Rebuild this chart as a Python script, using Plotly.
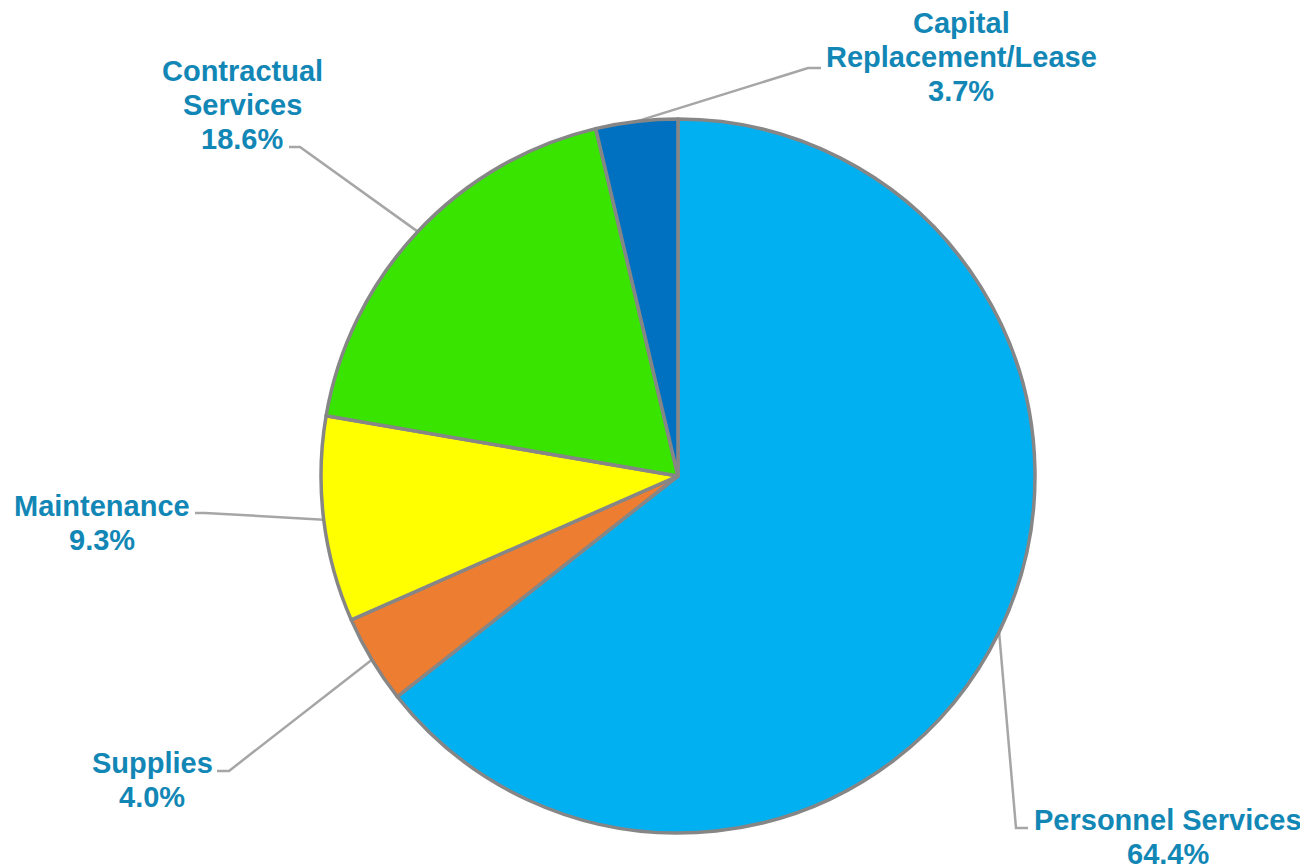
import math
import plotly.graph_objects as go

# ---- data ----
categories = ["Personnel Services", "Supplies", "Maintenance",
              "Contractual Services", "Capital Replacement/Lease"]
values = [64.4, 4.0, 9.3, 18.6, 3.7]
label_lines = [["Personnel Services"], ["Supplies"], ["Maintenance"],
               ["Contractual", "Services"], ["Capital", "Replacement/Lease"]]
colors = ["#00B0F0", "#ED7D31", "#FFFF00", "#38E400", "#0070C0"]

# ---- layout geometry (page pixels) ----
OFF = 8                      # default page body margin
W, H = 1308 - OFF, 867 - OFF  # figure size
CX, CY, R = 678, 476, 357
dom_x = [(CX - OFF - R) / W, (CX - OFF + R) / W]
dom_y = [1 - (CY - OFF + R) / H, 1 - (CY - OFF - R) / H]

# label placement: center x, y of first line; leader elbow and end points
label_pos = [(1168, 818), (152, 761), (102, 504), (242, 69), (961, 21)]
elbows = [[(1016, 828), (1028, 828)],
          [(229, 771), (217, 771)],
          [(205, 513), (195, 513)],
          [(300, 147), (289, 147)],
          [(808, 68), (821, 68)]]
LINE_H = 34
TEXT_COLOR = "#1287B6"


def px2paper(x, y):
    return (x - OFF) / W, 1 - (y - OFF) / H


fig = go.Figure(go.Pie(
    labels=categories, values=values, sort=False, direction="clockwise",
    rotation=0, textinfo="none", hoverinfo="label+percent",
    marker=dict(colors=colors, line=dict(color="#868686", width=3.5)),
    domain=dict(x=dom_x, y=dom_y), showlegend=False,
))

shapes = []
annotations = []
total = sum(values)
cum = 0
for i, v in enumerate(values):
    mid = (cum + v / 2) / total * 2 * math.pi
    cum += v
    ex = CX + R * math.sin(mid)
    ey = CY - R * math.cos(mid)
    pts = [(ex, ey)] + elbows[i]
    path = "M " + " L ".join(
        f"{px2paper(x, y)[0]:.5f},{px2paper(x, y)[1]:.5f}" for x, y in pts)
    shapes.append(dict(type="path", xref="paper", yref="paper", path=path,
                       line=dict(color="#A6A6A6", width=2.5), layer="below"))
    lines = label_lines[i] + [f"{v:.1f}%"]
    lx, ly = label_pos[i]
    for j, t in enumerate(lines):
        ax, ay = px2paper(lx, ly + j * LINE_H + 2)
        annotations.append(dict(x=ax, y=ay, xref="paper", yref="paper", text=t,
                                showarrow=False, xanchor="center", yanchor="middle",
                                font=dict(family="Liberation Sans, Arial, sans-serif",
                                          size=29, color=TEXT_COLOR, weight="bold")))

fig.update_layout(width=W, height=H, margin=dict(l=0, r=0, t=0, b=0),
                  paper_bgcolor="white", plot_bgcolor="white",
                  shapes=shapes, annotations=annotations)
fig.write_html("out.html")
